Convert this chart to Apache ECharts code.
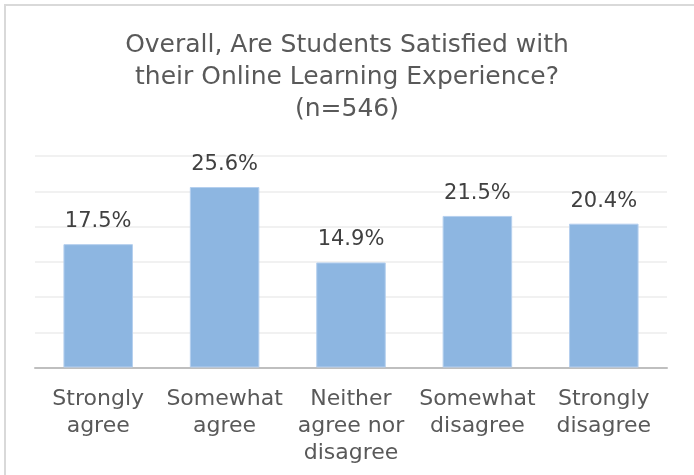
<!DOCTYPE html>
<html>
<head>
<meta charset="utf-8">
<style>
  html, body { margin: 0; padding: 0; background: #ffffff; }
  #chart { width: 694px; height: 475px; }
</style>
<script src="https://cdn.jsdelivr.net/npm/echarts@6/dist/echarts.min.js"></script>
</head>
<body>
<div id="chart"></div>
<script>
// Survey responses (percent of respondents)
const categories = [
  'Strongly\nagree',
  'Somewhat\nagree',
  'Neither\nagree nor\ndisagree',
  'Somewhat\ndisagree',
  'Strongly\ndisagree'
];
const shares = [17.5, 25.6, 14.9, 21.5, 20.4];
const titleLines = [
  'Overall, Are Students Satisfied with',
  'their Online Learning Experience?',
  '(n=546)'
];

const FONT = '"DejaVu Sans", "Liberation Sans", Arial, sans-serif';

const chart = echarts.init(document.getElementById('chart'), null, { renderer: 'canvas' });

chart.setOption({
  backgroundColor: '#ffffff',
  animation: false,
  title: {
    text: titleLines.join('\n'),
    left: 'center',
    top: 24,
    textStyle: {
      fontFamily: FONT,
      fontSize: 25,
      fontWeight: 'normal',
      color: '#595959',
      lineHeight: 32
    }
  },
  graphic: [{
    type: 'rect',
    shape: { x: 5, y: 5, width: 720, height: 520 },
    style: { fill: 'none', stroke: '#d9d9d9', lineWidth: 2 },
    silent: true,
    z: -1
  }],
  grid: {
    left: 35,
    right: 27,
    top: 156,
    bottom: 107.5,
    containLabel: false
  },
  xAxis: {
    type: 'category',
    data: categories,
    axisLine: { show: true, lineStyle: { color: '#bfbfbf', width: 2 } },
    axisTick: { show: false },
    axisLabel: {
      interval: 0,
      margin: 18,
      fontFamily: FONT,
      fontSize: 22,
      lineHeight: 27,
      color: '#595959',
      align: 'center'
    }
  },
  yAxis: {
    type: 'value',
    min: 0,
    max: 30,
    interval: 5,
    axisLabel: { show: false },
    axisLine: { show: false },
    axisTick: { show: false },
    splitLine: { show: true, lineStyle: { color: '#ececec', width: 1.5 } }
  },
  series: [{
    type: 'bar',
    data: shares,
    barWidth: '55%',
    itemStyle: {
      color: '#8db6e1',
      borderColor: '#b5cfee',
      borderWidth: 1
    },
    label: {
      show: true,
      position: 'top',
      distance: 12,
      formatter: p => p.value.toFixed(1) + '%',
      fontFamily: FONT,
      fontSize: 21,
      color: '#404040'
    }
  }]
});
</script>
</body>
</html>
